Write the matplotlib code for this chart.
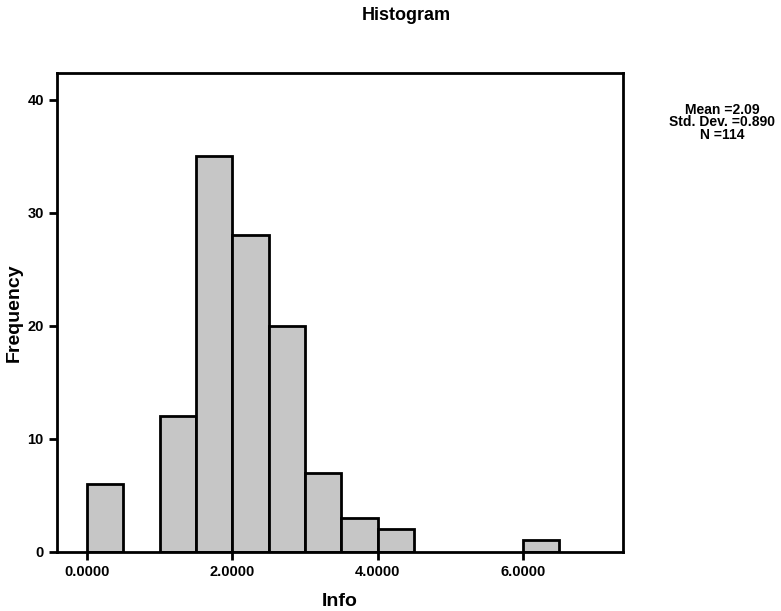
import numpy as np
import matplotlib
matplotlib.use('Agg')
import matplotlib.pyplot as plt

# Histogram data (bin width 0.5)
bin_left = [0.0, 0.5, 1.0, 1.5, 2.0, 2.5, 3.0, 3.5, 4.0, 4.5, 5.0, 5.5, 6.0]
counts = [6, 0, 12, 35, 28, 20, 7, 3, 2, 0, 0, 0, 1]
bin_width = 0.5
x_ticks = [0, 2, 4, 6]
x_tick_labels = ['0.0000', '2.0000', '4.0000', '6.0000']
y_ticks = [0, 10, 20, 30, 40]
stats_text = 'Mean =2.09\nStd. Dev. =0.890\nN =114'

plt.rcParams['font.family'] = ['Liberation Sans', 'DejaVu Sans']
plt.rcParams['font.weight'] = 'bold'

fig = plt.figure(figsize=(7.81, 6.11), dpi=100)
ax = fig.add_axes([0.073, 0.097, 0.725, 0.784])

heights = np.array(counts)
lefts = np.array(bin_left)
mask = heights > 0
ax.bar(lefts[mask], heights[mask], width=bin_width, align='edge',
       color='#c6c6c6', edgecolor='black', linewidth=2)

ax.set_xlim(-0.41, 7.38)
ax.set_ylim(0, 42.4)
ax.set_xticks(x_ticks)
ax.set_xticklabels(x_tick_labels)
ax.set_yticks(y_ticks)
ax.tick_params(axis='both', direction='out', length=6, width=2, labelsize=10.5)
for lab in ax.get_xticklabels() + ax.get_yticklabels():
    lab.set_fontweight('bold')
for s in ax.spines.values():
    s.set_linewidth(2)

ax.set_xlabel('Info', fontsize=14, fontweight='bold', labelpad=10)
ax.set_ylabel('Frequency', fontsize=14, fontweight='bold', labelpad=3)

fig.text(0.52, 0.988, 'Histogram', ha='center', va='top', fontsize=13, fontweight='bold')
fig.text(0.925, 0.832, stats_text, ha='center', va='top', fontsize=10,
         fontweight='bold', linespacing=0.87)

fig.savefig('out.png', dpi=100)
